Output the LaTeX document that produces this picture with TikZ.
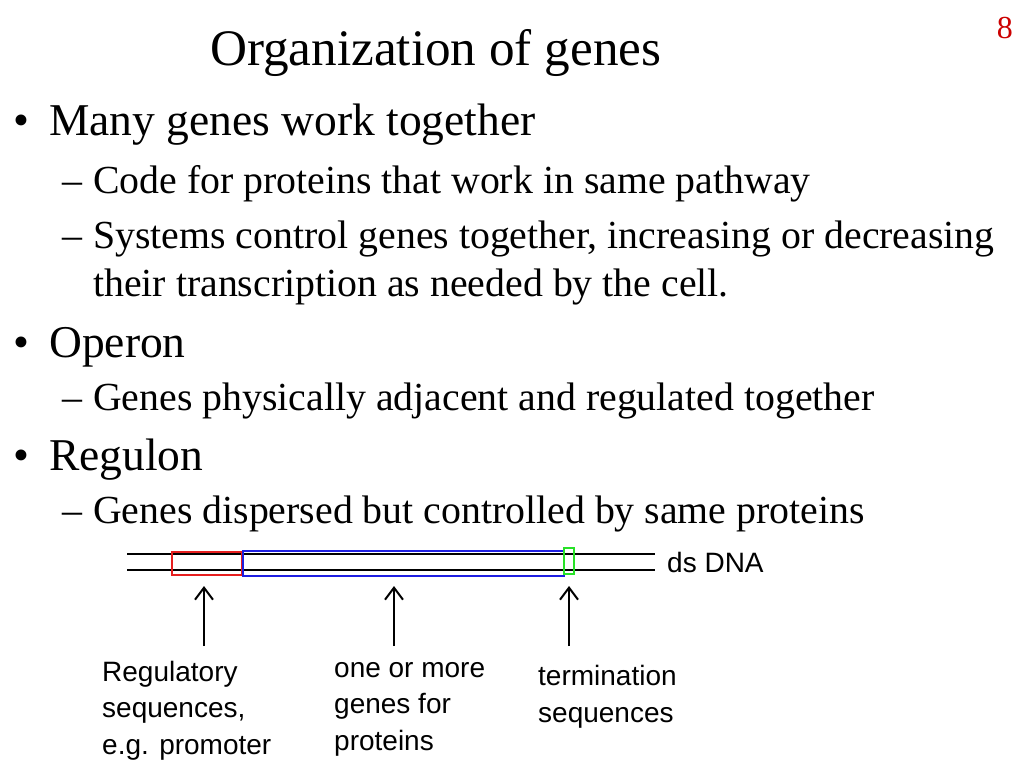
\documentclass[tikz,border=0pt]{standalone}
\usepackage{fontspec}
\setmainfont{Liberation Serif}
\setsansfont{Liberation Sans}
\usetikzlibrary{arrows.meta,positioning}
\definecolor{pagered}{RGB}{204,0,0}
\definecolor{promred}{RGB}{230,30,30}
\definecolor{geneblue}{RGB}{30,30,225}
\definecolor{termgreen}{RGB}{40,225,40}

\begin{document}
\begin{tikzpicture}[x=1pt, y=-1pt,
    lvlone/.style={anchor=base west, inner sep=0pt, font=\fontsize{45.5}{54.6}\selectfont},
    lvltwo/.style={anchor=base west, inner sep=0pt, align=left, font=\fontsize{39.8}{47.8}\selectfont},
    bull/.style={anchor=base, inner sep=0pt, font=\fontsize{45.5}{54.6}\selectfont},
    tag/.style={anchor=base west, inner sep=0pt, align=left, font=\sffamily\fontsize{28}{36.5}\selectfont},
    dna/.style={line width=2pt},
    box/.style={draw, line width=2pt, inner sep=0pt},
    uparrow/.style={line width=2pt, -{Straight Barb[length=12pt, width=18pt, line width=2pt]}}]
    \fill[white] (0,0) rectangle (1024,768);
    \useasboundingbox (0,0) rectangle (1024,768);

    % Title and slide number
    \node[anchor=base west, inner sep=0pt, font=\fontsize{51.2}{61}\selectfont] (title) at (210,65) {Organization of genes};
    \node[anchor=base east, inner sep=0pt, text=pagered, font=\fontsize{32}{38}\selectfont] (pagenum) at (1013,38) {8};

    % Bullets and dashes
    \foreach \y/\n in {135/1, 357/2, 470/3} {
        \node[bull] (bul\n) at (21,\y) {\textbullet};
    }
    \foreach \y/\n in {193/1, 248/2, 410/3, 523/4} {
        \node[lvltwo] (dash\n) at (62,\y) {--};
    }

    % Slide text (base anchor of a two-line node is its last line)
    \node[lvlone] (many) at (49,135) {Many genes work together};
    \node[lvltwo] (code) at (93,193) {Code for proteins that work in same pathway};
    \node[lvltwo] (systems) at (93,296) {Systems control genes together, increasing or decreasing\\their transcription as needed by the cell.};
    \node[lvlone] (operon) at (49,357) {Operon};
    \node[lvltwo] (adjacent) at (93,410) {Genes physically adjacent and regulated together};
    \node[lvlone] (regulon) at (49,470) {Regulon};
    \node[lvltwo] (dispersed) at (93,523) {Genes dispersed but controlled by same proteins};

    % DNA double strand
    \coordinate (topL) at (127,554);
    \coordinate (topR) at (655,554);
    \coordinate (botL) at (127,570);
    \coordinate (botR) at (655,570);
    \draw[dna] (topL) -- (topR);
    \draw[dna] (botL) -- (botR);
    \node[anchor=base west, inner sep=0pt, font=\sffamily\fontsize{28}{32}\selectfont] (dsdna) at (667,572) {ds DNA};

    % Regions on the DNA
    \node[box, draw=promred, minimum width=70pt, minimum height=23pt] (promoter) at (206.5,563.5) {};
    \node[box, draw=geneblue, minimum width=321pt, minimum height=25pt] (genes) at (403.5,563) {};
    \node[box, draw=termgreen, minimum width=10pt, minimum height=26pt] (term) at (569,561) {};

    % Arrows pointing at the regions
    \foreach \ax/\name in {204/reg, 394/gen, 569/end} {
        \coordinate (\name tip) at (\ax,586);
        \coordinate (\name tail) at (\ax,646);
        \draw[uparrow] (\name tail) -- (\name tip);
    }

    % Labels
    \node[tag] (reglabel) at (102,754) {Regulatory\\sequences,\\e.g. promoter};
    \node[tag] (genlabel) at (334,750) {one or more\\genes for\\proteins};
    \node[tag] (endlabel) at (538,722) {termination\\sequences};
\end{tikzpicture}
\end{document}
